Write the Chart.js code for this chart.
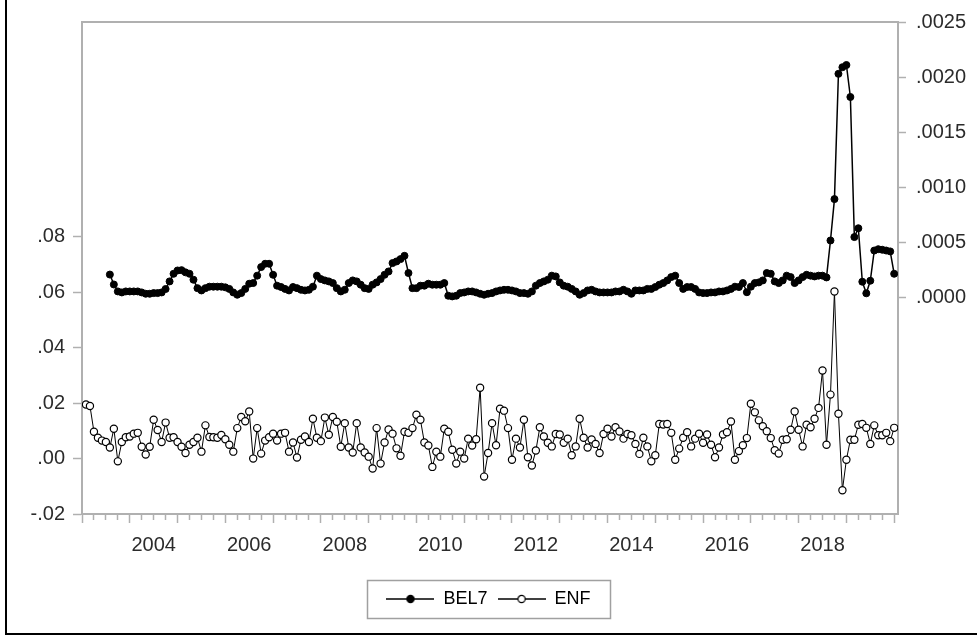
<!DOCTYPE html>
<html>
<head>
<meta charset="utf-8">
<script src="https://cdn.jsdelivr.net/npm/chart.js@4.4.1/dist/chart.umd.min.js"></script>
<style>
  html, body { margin: 0; padding: 0; background: #fff; }
  #wrap { position: relative; width: 977px; height: 639px; overflow: hidden; }
  #frame { position: absolute; left: 5px; top: -4px; width: 990px; height: 637px;
           border-left: 2px solid #000; border-bottom: 2px solid #000; pointer-events: none; }
  canvas { position: absolute; left: 0; top: 0; }
</style>
</head>
<body>
<div id="wrap">
  <canvas id="chart" width="977" height="639"></canvas>
  <div id="frame"></div>
</div>
<script>
// monthly observations, 2003M01 .. 2019M12
const months = [];
for (let y = 2003; y <= 2019; y++) {
  for (let m = 1; m <= 12; m++) months.push(y + "M" + String(m).padStart(2, "0"));
}

// ENF (left axis), from 2003M01
const enf = [
  0.0195, 0.019, 0.0097, 0.0075, 0.0065, 0.006, 0.004, 0.0108, -0.001, 0.006,
  0.0077, 0.008, 0.009, 0.0093, 0.0043, 0.0015, 0.0043, 0.014, 0.0103, 0.006,
  0.013, 0.0075, 0.0077, 0.006, 0.0043, 0.002, 0.005, 0.006, 0.0075, 0.0025,
  0.012, 0.0078, 0.0077, 0.0075, 0.0085, 0.007, 0.005, 0.0025, 0.011, 0.015,
  0.0135, 0.017, 0.0, 0.011, 0.0018, 0.0065, 0.0077, 0.009, 0.0065, 0.009,
  0.0093,
  0.0025, 0.0058, 0.0004, 0.0068, 0.008, 0.006, 0.0144, 0.0075, 0.0063, 0.0148,
  0.0086, 0.015, 0.0133, 0.0043, 0.0128, 0.004, 0.0022, 0.0128, 0.004, 0.0022,
  0.0007, -0.0036, 0.011, -0.0018, 0.0058, 0.0105, 0.009, 0.0037, 0.001, 0.0097,
  0.0093, 0.011, 0.0158, 0.014, 0.0058, 0.0047, -0.003, 0.0025, 0.0007, 0.0108,
  0.0097, 0.0032, -0.0018, 0.0025, 0.0, 0.0072, 0.0047, 0.007, 0.0256, -0.0065,
  0.002, 0.0128,
  0.0048, 0.018, 0.0173, 0.011, -0.0004, 0.0072, 0.004, 0.014, 0.0005, -0.0025,
  0.0029, 0.0113, 0.008, 0.0057, 0.0044, 0.0089, 0.0087, 0.0057, 0.0072, 0.0012,
  0.0044, 0.0144, 0.0075, 0.004, 0.0069, 0.0053, 0.002, 0.0089, 0.0108, 0.008,
  0.0113, 0.0098, 0.0072, 0.0089, 0.0084, 0.0053, 0.0017, 0.0075, 0.0044, -0.001,
  0.0012, 0.0125, 0.0123, 0.0125, 0.0093, -0.0004, 0.0036, 0.0075, 0.0095, 0.0044,
  0.0072,
  0.009, 0.0057, 0.0087, 0.005, 0.0005, 0.004, 0.0087, 0.0095, 0.0134, -0.0004,
  0.0027, 0.0048, 0.0074, 0.0198, 0.0167, 0.0138, 0.0117, 0.0099, 0.0074, 0.003,
  0.0018, 0.0068, 0.007, 0.0104, 0.017, 0.0104, 0.0044, 0.0122, 0.0113, 0.0144,
  0.0183, 0.0318, 0.005, 0.0231, 0.0603, 0.0162, -0.0114, -0.0004, 0.0068, 0.0068,
  0.0122, 0.0125, 0.0111, 0.0053, 0.012, 0.0084, 0.0084, 0.0093, 0.0063, 0.0111
];

// BEL7 (right axis), from 2003M07
const bel7Start = "2003M07";
const bel7 = [
  2.1e-4, 1.2e-4, 0.57e-4, 0.48e-4, 0.57e-4, 0.57e-4, 0.57e-4, 0.57e-4, 0.48e-4, 0.36e-4,
  0.36e-4, 0.42e-4, 0.42e-4, 0.48e-4, 0.79e-4, 1.48e-4, 2.17e-4, 2.47e-4, 2.5e-4, 2.3e-4,
  2.17e-4, 1.63e-4, 0.87e-4, 0.66e-4, 0.87e-4, 1.0e-4, 1.0e-4, 1.0e-4, 1.0e-4, 0.94e-4,
  0.8e-4, 0.48e-4, 0.27e-4, 0.42e-4, 0.8e-4, 1.27e-4, 1.33e-4, 2.0e-4, 2.78e-4, 3.08e-4,
  3.08e-4, 2.08e-4, 1.09e-4, 0.97e-4, 0.8e-4, 0.66e-4, 0.97e-4, 0.87e-4, 0.72e-4, 0.66e-4,
  0.72e-4, 1.0e-4, 2.0e-4, 1.69e-4, 1.57e-4, 1.48e-4, 1.33e-4, 0.87e-4, 0.57e-4, 0.72e-4,
  1.33e-4, 1.57e-4, 1.48e-4, 1.18e-4, 0.87e-4, 0.8e-4,
  1.18e-4, 1.39e-4, 1.69e-4, 2.08e-4, 2.38e-4, 3.14e-4, 3.29e-4, 3.5e-4, 3.8e-4, 2.24e-4,
  0.87e-4, 0.87e-4, 1.09e-4, 1.09e-4, 1.27e-4, 1.18e-4, 1.18e-4, 1.18e-4, 1.33e-4, 0.18e-4,
  0.12e-4, 0.18e-4, 0.42e-4, 0.48e-4, 0.57e-4, 0.57e-4, 0.48e-4, 0.36e-4, 0.27e-4, 0.36e-4,
  0.42e-4, 0.57e-4, 0.66e-4, 0.72e-4, 0.72e-4, 0.66e-4, 0.57e-4, 0.42e-4, 0.42e-4, 0.36e-4,
  0.57e-4, 1.09e-4, 1.33e-4, 1.48e-4, 1.63e-4, 2.0e-4, 1.93e-4, 1.39e-4, 1.09e-4, 1.0e-4,
  0.8e-4, 0.57e-4, 0.27e-4, 0.42e-4, 0.66e-4, 0.72e-4, 0.57e-4, 0.48e-4, 0.48e-4, 0.48e-4,
  0.48e-4, 0.57e-4, 0.57e-4, 0.72e-4, 0.57e-4, 0.36e-4,
  0.66e-4, 0.66e-4, 0.66e-4, 0.8e-4, 0.8e-4, 0.97e-4, 1.18e-4, 1.33e-4, 1.57e-4, 1.87e-4,
  2.0e-4, 1.33e-4, 0.8e-4, 0.97e-4, 0.97e-4, 0.8e-4, 0.48e-4, 0.42e-4, 0.42e-4, 0.48e-4,
  0.48e-4, 0.57e-4, 0.57e-4, 0.66e-4, 0.8e-4, 1.0e-4, 0.97e-4, 1.33e-4, 0.5e-4, 1.0e-4,
  1.33e-4, 1.39e-4, 1.57e-4, 2.24e-4, 2.17e-4, 1.48e-4, 1.33e-4, 1.57e-4, 2.0e-4, 1.87e-4,
  1.33e-4, 1.57e-4, 1.87e-4, 2.08e-4, 2.0e-4, 1.93e-4, 2.0e-4, 2.0e-4,
  1.84e-4, 5.19e-4, 8.94e-4, 20.3e-4, 20.9e-4, 21.1e-4, 18.2e-4, 5.5e-4, 6.3e-4, 1.45e-4,
  0.4e-4, 1.54e-4, 4.28e-4, 4.4e-4, 4.35e-4, 4.28e-4, 4.2e-4, 2.17e-4
];

// tick values / labels
const leftTicks = [-0.02, 0, 0.02, 0.04, 0.06, 0.08];
const rightTicks = [0, 0.0005, 0.001, 0.0015, 0.002, 0.0025];
const yearLabels = [2004, 2006, 2008, 2010, 2012, 2014, 2016, 2018];
const quarterTicks = [];
for (let q = 2003; q <= 2020; q += 0.25) quarterTicks.push(q);

const axisGray = "#b0b0b0";
const labelColor = "#2b2b2b";
const tickFont = { family: "'Liberation Sans', Arial, sans-serif", size: 20 };

// an observation sits at the end of its month, as in EViews
const toTime = (label) => +label.slice(0, 4) + (+label.slice(5)) / 12;
const enfPoints = enf.map((v, i) => ({ x: toTime(months[i]), y: v }));
const bel7Offset = months.indexOf(bel7Start);
const bel7Points = bel7.map((v, i) => ({ x: toTime(months[bel7Offset + i]), y: v }));

function legendSymbol(filled) {
  const c = document.createElement("canvas");
  c.width = 48;
  c.height = 10;
  const g = c.getContext("2d");
  g.strokeStyle = "#000";
  g.lineWidth = 1.5;
  g.beginPath();
  g.moveTo(0, 5);
  g.lineTo(48, 5);
  g.stroke();
  g.beginPath();
  g.arc(24, 5, 3.6, 0, Math.PI * 2);
  g.fillStyle = filled ? "#000" : "#fff";
  g.fill();
  g.lineWidth = 1.2;
  g.stroke();
  return c;
}
const symbols = [legendSymbol(true), legendSymbol(false)];

// grey box round the plot area
const plotFrame = {
  id: "plotFrame",
  beforeDatasetsDraw(chart) {
    const { ctx, chartArea: a } = chart;
    ctx.save();
    ctx.strokeStyle = axisGray;
    ctx.lineWidth = 2;
    ctx.strokeRect(a.left, a.top, a.right - a.left, a.bottom - a.top);
    ctx.restore();
  },
};

// grey box round the legend
const legendFrame = {
  id: "legendFrame",
  afterDraw(chart) {
    const lg = chart.legend;
    const boxes = lg.legendHitBoxes;
    if (!boxes || !boxes.length) return;
    const l = Math.min(...boxes.map((b) => b.left));
    const r = Math.max(...boxes.map((b) => b.left + b.width));
    const w = 243;
    const cx = (l + r) / 2;
    const ctx = chart.ctx;
    ctx.save();
    ctx.strokeStyle = "#a0a0a0";
    ctx.lineWidth = 1.5;
    ctx.strokeRect(Math.round(cx - w / 2) + 0.5, lg.top + 0.5, w, lg.height);
    ctx.restore();
  },
};

new Chart(document.getElementById("chart"), {
  type: "line",
  data: {
    datasets: [
      {
        label: "BEL7",
        data: bel7Points,
        yAxisID: "y2",
        borderColor: "#000",
        borderWidth: 1.5,
        pointRadius: 3.5,
        pointBackgroundColor: "#000",
        pointBorderColor: "#000",
        pointBorderWidth: 1,
        order: 2,
      },
      {
        label: "ENF",
        data: enfPoints,
        yAxisID: "y",
        borderColor: "#000",
        borderWidth: 1,
        pointRadius: 3.6,
        pointBackgroundColor: "#fff",
        pointBorderColor: "#000",
        pointBorderWidth: 1.2,
        order: 1,
      },
    ],
  },
  options: {
    responsive: false,
    animation: false,
    devicePixelRatio: 1,
    layout: { padding: { top: 22, bottom: 21, left: 0, right: 0 } },
    plugins: {
      tooltip: { enabled: false },
      legend: {
        position: "bottom",
        labels: {
          usePointStyle: true,
          pointStyleWidth: 48,
          padding: 10,
          color: "#000",
          font: { family: "'Liberation Sans', Arial, sans-serif", size: 18 },
          generateLabels: (chart) =>
            chart.data.datasets.map((ds, i) => ({
              text: ds.label,
              pointStyle: symbols[i],
              fillStyle: "#000",
              strokeStyle: "#000",
              lineWidth: 0,
              hidden: false,
              datasetIndex: i,
            })),
        },
      },
    },
    scales: {
      x: {
        type: "linear",
        min: 2003,
        max: 2020.08,
        afterBuildTicks: (s) => { s.ticks = quarterTicks.map((v) => ({ value: v })); },
        afterFit: (s) => { s.height = 66; },
        grid: {
          drawOnChartArea: false,
          tickLength: 9,
          tickWidth: 1.5,
          tickColor: axisGray,
          tickBorderDash: (ctx) => (ctx.tick && Number.isInteger(ctx.tick.value) ? [] : [5, 20]),
        },
        border: { color: axisGray, width: 2 },
        ticks: {
          autoSkip: false,
          maxRotation: 0,
          padding: 10,
          color: labelColor,
          font: tickFont,
          callback: (v) => (yearLabels.includes(v - 0.5) ? String(v - 0.5) : ""),
        },
      },
      y: {
        position: "left",
        min: -0.02,
        max: 0.1576,
        afterBuildTicks: (s) => { s.ticks = leftTicks.map((v) => ({ value: v })); },
        afterFit: (s) => { s.width = 82; },
        grid: { drawOnChartArea: false, tickLength: 9, tickWidth: 1.5, tickColor: axisGray },
        border: { color: axisGray, width: 2 },
        ticks: {
          padding: 8,
          color: labelColor,
          font: tickFont,
          callback: (v) => v.toFixed(2).replace("0.", "."),
        },
      },
      y2: {
        position: "right",
        min: -0.001961,
        max: 0.0025,
        afterBuildTicks: (s) => { s.ticks = rightTicks.map((v) => ({ value: v })); },
        afterFit: (s) => { s.width = 79; },
        grid: { drawOnChartArea: false, tickLength: 8, tickWidth: 1.5, tickColor: axisGray },
        border: { color: axisGray, width: 2 },
        ticks: {
          padding: 10,
          color: labelColor,
          font: tickFont,
          callback: (v) => v.toFixed(4).replace("0.", "."),
        },
      },
    },
  },
  plugins: [plotFrame, legendFrame],
});
</script>
</body>
</html>
